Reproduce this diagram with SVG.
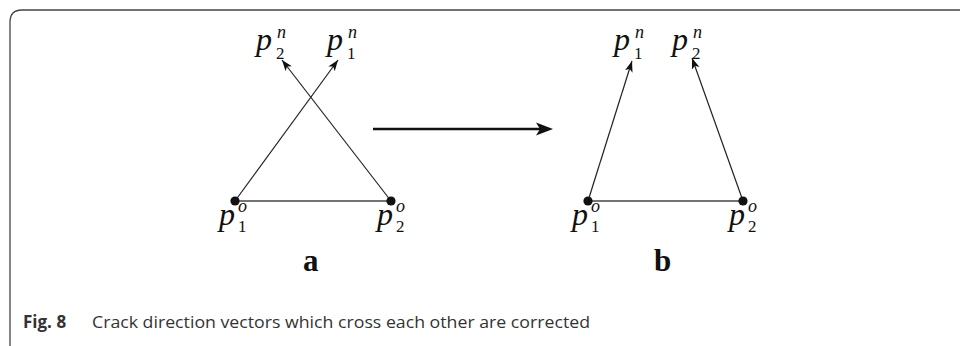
<svg xmlns="http://www.w3.org/2000/svg" width="960" height="346" viewBox="0 0 960 346">
<style>
.m{font-family:"Liberation Serif","Times New Roman",serif;font-style:italic;font-size:32px;fill:#111}
.s{font-family:"Liberation Serif","Times New Roman",serif;font-size:17px;fill:#111}
.si{font-family:"Liberation Serif","Times New Roman",serif;font-style:italic;font-size:18px;fill:#111}
.lab{font-family:"Liberation Serif","Times New Roman",serif;font-weight:bold;font-size:31px;fill:#111}
.edge{stroke:#222;stroke-width:1.2;fill:none}
.base{stroke:#444;stroke-width:1.5;fill:none}
.dot{fill:#111}
.cap{font-family:"Open Sans","Noto Sans",sans-serif;font-size:17px;fill:#333}
</style>
<defs>
<marker id="ah" markerUnits="userSpaceOnUse" viewBox="0 0 11 9" refX="11" refY="4.5" markerWidth="11" markerHeight="9" orient="auto">
<path d="M0,0.5 L11,4.5 L0,8.5 L2.8,4.5 z" fill="#111"/>
</marker>
</defs>
<path d="M10,346 V22 Q10,10 22,10 H960" fill="none" stroke="#444" stroke-width="1.3"/>
<g id="connectors">
<line class="base" x1="235" y1="201" x2="391" y2="201"/>
<line class="edge" x1="235" y1="201" x2="338" y2="60" marker-end="url(#ah)"/>
<line class="edge" x1="391" y1="201" x2="282" y2="60" marker-end="url(#ah)"/>
<line class="base" x1="588" y1="201" x2="743" y2="201"/>
<line class="edge" x1="588" y1="201" x2="632" y2="61" marker-end="url(#ah)"/>
<line class="edge" x1="743" y1="201" x2="692" y2="58" marker-end="url(#ah)"/>
<line x1="373" y1="129" x2="540" y2="129" stroke="#111" stroke-width="2.6"/>
<path d="M553,129 L536,122.5 L540,129 L536,135.5 z" fill="#111"/>
</g>
<g id="a-p1o"><circle class="dot" cx="235" cy="201" r="4.6"/><text class="m" x="219" y="225">p</text><text class="si" x="238" y="212">o</text><text class="s" x="238" y="232">1</text></g>
<g id="a-p2o"><circle class="dot" cx="391" cy="201" r="4.6"/><text class="m" x="377" y="225">p</text><text class="si" x="396" y="212">o</text><text class="s" x="396" y="232">2</text></g>
<g id="a-p2n"><text class="m" x="256" y="50">p</text><text class="si" x="277" y="38">n</text><text class="s" x="276" y="59">2</text></g>
<g id="a-p1n"><text class="m" x="327" y="50">p</text><text class="si" x="348" y="38">n</text><text class="s" x="347" y="59">1</text></g>
<g id="b-p1o"><circle class="dot" cx="588" cy="201" r="4.6"/><text class="m" x="572" y="225">p</text><text class="si" x="591" y="212">o</text><text class="s" x="591" y="232">1</text></g>
<g id="b-p2o"><circle class="dot" cx="743" cy="201" r="4.6"/><text class="m" x="729" y="225">p</text><text class="si" x="748" y="212">o</text><text class="s" x="748" y="232">2</text></g>
<g id="b-p1n"><text class="m" x="614" y="50">p</text><text class="si" x="635" y="38">n</text><text class="s" x="634" y="59">1</text></g>
<g id="b-p2n"><text class="m" x="672" y="50">p</text><text class="si" x="693" y="38">n</text><text class="s" x="692" y="59">2</text></g>
<text class="lab" x="303" y="271">a</text>
<text class="lab" x="654" y="271">b</text>
<text class="cap" x="23" y="328" font-weight="bold" font-size="18">Fig. 8</text>
<text class="cap" x="92" y="328" textLength="498" lengthAdjust="spacingAndGlyphs">Crack direction vectors which cross each other are corrected</text>
</svg>
